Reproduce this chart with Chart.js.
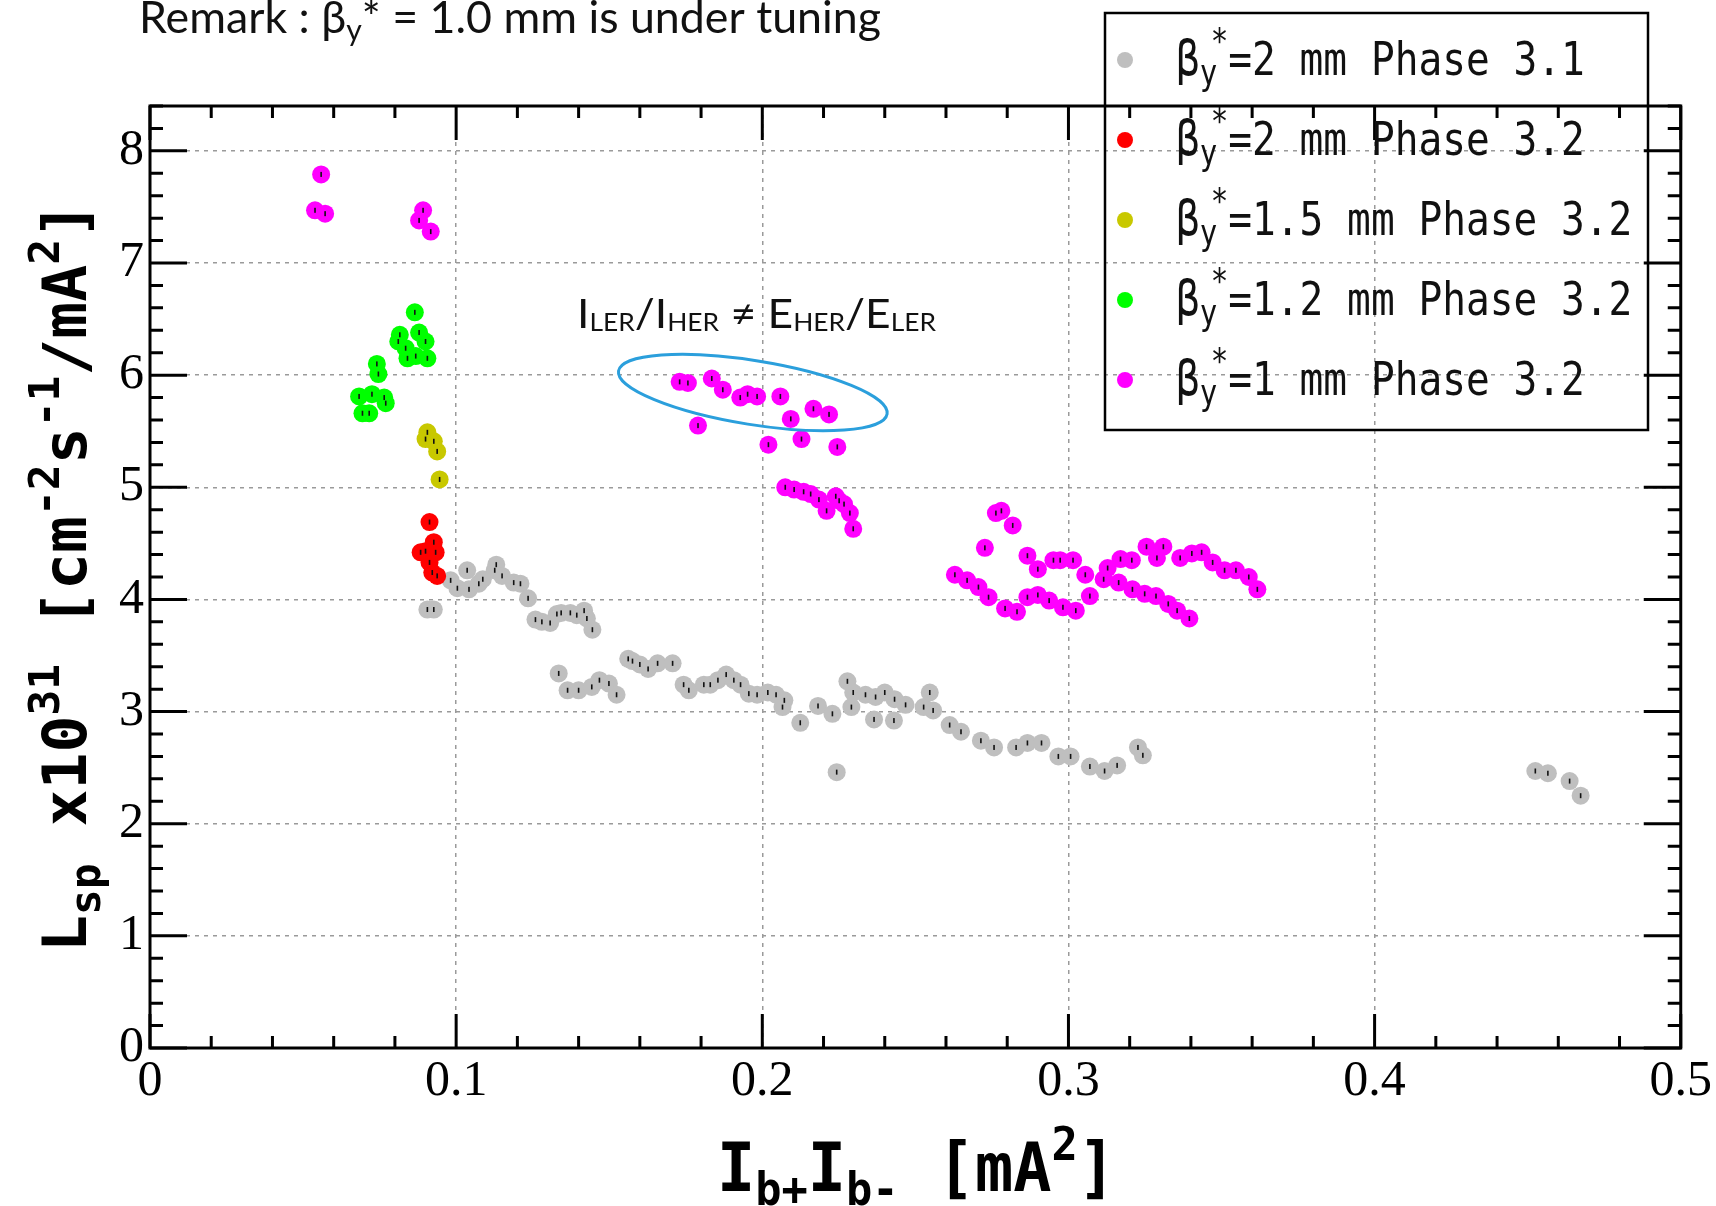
<!DOCTYPE html>
<html>
<head>
<meta charset="utf-8">
<script src="https://cdn.jsdelivr.net/npm/chart.js@4.4.1/dist/chart.umd.min.js"></script>
<style>
  html, body { margin: 0; padding: 0; background: #fff; }
  #wrap { width: 1716px; height: 1206px; position: relative; }
</style>
</head>
<body>
<div id="wrap"><canvas id="lumiChart"></canvas></div>
<script>
// beta_y* = 2 mm, Phase 3.1
const grayX = [0.0906, 0.0927, 0.0982, 0.1004, 0.1036, 0.1042, 0.1074, 0.1087, 0.1126, 0.1131, 0.1150, 0.1188, 0.1210, 0.1235,
  0.1259, 0.1280, 0.1307, 0.1329, 0.1343, 0.1373, 0.1394, 0.1418, 0.1427, 0.1445,
  0.1335, 0.1364, 0.1400, 0.1443, 0.1468, 0.1499, 0.1524,
  0.1562, 0.1576, 0.1600, 0.1627, 0.1658, 0.1707,
  0.1743, 0.1760, 0.1809, 0.1830, 0.1855, 0.1882, 0.1907, 0.1929, 0.1956, 0.1983, 0.2018, 0.2045, 0.2072, 0.2066,
  0.2124, 0.2182, 0.2229, 0.2243, 0.2278, 0.2297, 0.2291, 0.2337, 0.2370, 0.2400, 0.2365, 0.2430, 0.2432, 0.2468, 0.2527, 0.2547, 0.2558,
  0.2612, 0.2649, 0.2714, 0.2757, 0.2829, 0.2866, 0.2912, 0.2967, 0.3007, 0.3070, 0.3118, 0.3159, 0.3227, 0.3243,
  0.4525, 0.4566, 0.4637, 0.4673];
const grayY = [3.91, 3.91, 4.17, 4.10, 4.26, 4.09, 4.14, 4.18, 4.26, 4.31, 4.21, 4.15, 4.14, 4.01,
  3.82, 3.80, 3.79, 3.87, 3.88, 3.88, 3.86, 3.90, 3.83, 3.73,
  3.34, 3.19, 3.19, 3.22, 3.28, 3.25, 3.15,
  3.47, 3.45, 3.42, 3.38, 3.43, 3.43,
  3.24, 3.19, 3.24, 3.24, 3.28, 3.33, 3.28, 3.24, 3.16, 3.15, 3.17, 3.15, 3.10, 3.04,
  2.90, 3.05, 2.98, 2.46, 3.27, 3.17, 3.04, 3.15, 3.13, 3.17, 2.93, 2.92, 3.11, 3.06, 3.04, 3.17, 3.01,
  2.88, 2.82, 2.74, 2.68, 2.68, 2.72, 2.72, 2.60, 2.60, 2.51, 2.47, 2.52, 2.68, 2.61,
  2.47, 2.45, 2.38, 2.25];

// beta_y* = 2 mm, Phase 3.2
const redX = [0.0913, 0.0927, 0.0900, 0.0933, 0.0884, 0.0913, 0.0922, 0.0938];
const redY = [4.69, 4.51, 4.43, 4.42, 4.42, 4.33, 4.24, 4.21];

// beta_y* = 1.5 mm, Phase 3.2
const yellowX = [0.0906, 0.0900, 0.0927, 0.0938, 0.0946];
const yellowY = [5.49, 5.43, 5.41, 5.32, 5.07];

// beta_y* = 1.2 mm, Phase 3.2
const greenX = [0.0865, 0.0816, 0.0811, 0.0835, 0.0879, 0.0900, 0.0841, 0.0868, 0.0906,
  0.0741, 0.0746, 0.0765, 0.0725, 0.0683, 0.0694, 0.0716, 0.0770];
const greenY = [6.56, 6.36, 6.30, 6.24, 6.38, 6.30, 6.15, 6.17, 6.15,
  6.10, 6.01, 5.80, 5.83, 5.81, 5.66, 5.66, 5.75];

// beta_y* = 1 mm, Phase 3.2
const magentaX = [0.0559, 0.0539, 0.0572, 0.0892, 0.0879, 0.0917,
  0.1730, 0.1757, 0.1835, 0.1871, 0.1928, 0.1952, 0.1983, 0.2059, 0.2093, 0.2167, 0.2218, 0.1790, 0.2020, 0.2128, 0.2245,
  0.2075, 0.2104, 0.2135, 0.2158, 0.2185, 0.2210, 0.2240, 0.2251, 0.2267, 0.2286, 0.2297,
  0.2763, 0.2781, 0.2818, 0.2727, 0.2866, 0.2900, 0.2951, 0.2973, 0.3015,
  0.2629, 0.2669, 0.2706, 0.2739, 0.2793, 0.2832, 0.2866, 0.2900, 0.2937, 0.2982, 0.3024,
  0.3055, 0.3070, 0.3115, 0.3128, 0.3170, 0.3207, 0.3255, 0.3310, 0.3289, 0.3365, 0.3403, 0.3435, 0.3471, 0.3510, 0.3547, 0.3589, 0.3617,
  0.3164, 0.3209, 0.3249, 0.3286, 0.3326, 0.3355, 0.3395];
const magentaY = [7.79, 7.47, 7.44, 7.47, 7.38, 7.28,
  5.94, 5.93, 5.97, 5.87, 5.80, 5.83, 5.81, 5.81, 5.61, 5.70, 5.65, 5.55, 5.38, 5.43, 5.36,
  5.00, 4.98, 4.96, 4.94, 4.89, 4.79, 4.92, 4.88, 4.85, 4.77, 4.63,
  4.77, 4.79, 4.66, 4.46, 4.39, 4.27, 4.35, 4.35, 4.35,
  4.22, 4.17, 4.11, 4.02, 3.92, 3.89, 4.02, 4.04, 3.99, 3.93, 3.90,
  4.22, 4.03, 4.18, 4.28, 4.36, 4.35, 4.47, 4.47, 4.37, 4.37, 4.41, 4.42, 4.33, 4.26, 4.26, 4.20, 4.09,
  4.15, 4.09, 4.05, 4.03, 3.96, 3.90, 3.83];

const legendTexts = ['=2 mm Phase 3.1', '=2 mm Phase 3.2', '=1.5 mm Phase 3.2', '=1.2 mm Phase 3.2', '=1 mm Phase 3.2'];
const seriesColors = ['#bfbfbf', '#ff0000', '#c8c800', '#00ff00', '#ff00ff'];

const xTickValues = [0, 0.1, 0.2, 0.3, 0.4, 0.5];
const yTickValues = [0, 1, 2, 3, 4, 5, 6, 7, 8];
const xMinorStep = 0.02;
const yMinorStep = 0.2;

function toPoints(xs, ys) {
    return xs.map((x, i) => ({ x: x, y: ys[i] }));
}

// draws a run of text pieces (sub/superscripts), optionally squeezed to a width
function drawRich(ctx, x, y, parts, opts) {
    opts = opts || {};
    ctx.save();
    let total = 0;
    parts.forEach(p => {
        ctx.font = p.font;
        p.w = ctx.measureText(p.t).width;
        total += p.w + (p.dx || 0);
    });
    const sx = opts.width ? opts.width / total : (opts.sx || 1);
    ctx.translate(x, y);
    if (opts.rotate) ctx.rotate(opts.rotate);
    ctx.scale(sx, opts.vscale || 1);
    ctx.fillStyle = opts.color || '#000';
    ctx.textBaseline = 'alphabetic';
    ctx.textAlign = 'left';
    let cx = 0;
    parts.forEach(p => {
        cx += p.dx || 0;
        ctx.font = p.font;
        ctx.fillText(p.t, cx, p.dy || 0);
        cx += p.w;
    });
    ctx.restore();
}

// little black error bars on each marker
const errorBarPlugin = {
    id: 'errorBars',
    afterDatasetsDraw(chart) {
        const ctx = chart.ctx;
        ctx.save();
        ctx.fillStyle = '#111';
        chart.data.datasets.forEach((ds, i) => {
            chart.getDatasetMeta(i).data.forEach(pt => {
                ctx.fillRect(pt.x - 0.8, pt.y - 2.5, 1.6, 5);
            });
        });
        ctx.restore();
    }
};

// box frame with major/minor ticks on all four sides
const framePlugin = {
    id: 'frame',
    afterDatasetsDraw(chart) {
        const { ctx, chartArea: a, scales: { x, y } } = chart;
        ctx.save();
        ctx.strokeStyle = '#000';
        ctx.lineWidth = 3;
        ctx.beginPath();
        const nx = Math.round((x.max - x.min) / xMinorStep);
        for (let i = 0; i <= nx; i++) {
            const px = x.getPixelForValue(x.min + i * xMinorStep);
            const len = i % 5 === 0 ? 34 : 12;
            ctx.moveTo(px, a.bottom); ctx.lineTo(px, a.bottom - len);
            ctx.moveTo(px, a.top); ctx.lineTo(px, a.top + len);
        }
        const ny = Math.floor((y.max - y.min) / yMinorStep + 1e-6);
        for (let i = 0; i <= ny; i++) {
            const py = y.getPixelForValue(y.min + i * yMinorStep);
            const len = i % 5 === 0 ? 37 : 13;
            ctx.moveTo(a.left, py); ctx.lineTo(a.left + len, py);
            ctx.moveTo(a.right, py); ctx.lineTo(a.right - len, py);
        }
        ctx.stroke();
        ctx.strokeRect(a.left, a.top, a.right - a.left, a.bottom - a.top);
        ctx.restore();
    }
};

// titles, remark, annotation, ellipse and legend box
const textPlugin = {
    id: 'texts',
    afterDraw(chart) {
        const { ctx, scales: { x, y } } = chart;
        const mono = '"DejaVu Sans Mono", monospace';
        const sans = 'Lato, "Open Sans", sans-serif';

        // y title
        drawRich(ctx, 86, 952, [
            { t: 'L', font: 'bold 60px ' + mono },
            { t: 'sp', font: 'bold 42px ' + mono, dy: 14 },
            { t: ' x10', font: 'bold 60px ' + mono },
            { t: '31', font: 'bold 42px ' + mono, dy: -27 },
            { t: ' [cm', font: 'bold 60px ' + mono },
            { t: '-2', font: 'bold 42px ' + mono, dy: -27 },
            { t: 's', font: 'bold 60px ' + mono },
            { t: '-1', font: 'bold 42px ' + mono, dy: -27 },
            { t: '/mA', font: 'bold 60px ' + mono },
            { t: '2', font: 'bold 42px ' + mono, dy: -27 },
            { t: ']', font: 'bold 60px ' + mono }
        ], { rotate: -Math.PI / 2, width: 750 });

        // x title
        drawRich(ctx, 717, 1191, [
            { t: 'I', font: 'bold 64px ' + mono },
            { t: 'b+', font: 'bold 44px ' + mono, dy: 13 },
            { t: 'I', font: 'bold 64px ' + mono },
            { t: 'b-', font: 'bold 44px ' + mono, dy: 13 },
            { t: ' [mA', font: 'bold 64px ' + mono },
            { t: '2', font: 'bold 44px ' + mono, dy: -30 },
            { t: ']', font: 'bold 64px ' + mono }
        ], { width: 399, vscale: 1.05 });

        // remark on top
        drawRich(ctx, 139, 33, [
            { t: 'Remark : β', font: '37px ' + sans },
            { t: 'y', font: '25px ' + sans, dy: 7 },
            { t: '* = 1.0 mm is under tuning', font: '37px ' + sans }
        ], { width: 742, vscale: 1.2, color: '#111' });

        // ratio annotation
        drawRich(ctx, 577, 328, [
            { t: 'I', font: '37px ' + sans },
            { t: 'LER', font: '22px ' + sans, dy: 3 },
            { t: '/I', font: '37px ' + sans },
            { t: 'HER', font: '22px ' + sans, dy: 3 },
            { t: ' ≠ E', font: '37px ' + sans },
            { t: 'HER', font: '22px ' + sans, dy: 3 },
            { t: '/E', font: '37px ' + sans },
            { t: 'LER', font: '22px ' + sans, dy: 3 }
        ], { width: 359, vscale: 1.1, color: '#111' });

        // ellipse round the off-ratio points
        const cx = x.getPixelForValue(0.1969);
        const cy = y.getPixelForValue(5.845);
        ctx.save();
        ctx.strokeStyle = '#2b9fdc';
        ctx.lineWidth = 3;
        ctx.beginPath();
        ctx.ellipse(cx, cy, 136, 32, 9.1 * Math.PI / 180, 0, 2 * Math.PI);
        ctx.stroke();
        ctx.restore();

        // legend box (no fill, grid shows through)
        ctx.save();
        ctx.strokeStyle = '#000';
        ctx.lineWidth = 2.5;
        ctx.strokeRect(1105, 13, 543, 417);
        chart.data.datasets.forEach((ds, i) => {
            const rowY = 60 + i * 80;
            ctx.fillStyle = ds.backgroundColor;
            ctx.beginPath();
            ctx.arc(1125, rowY, 8, 0, 2 * Math.PI);
            ctx.fill();
            drawRich(ctx, 1176, rowY + 15, [
                { t: 'β', font: '42px ' + mono },
                { t: 'y', font: '31px ' + mono, dy: 9 },
                { t: '*', font: '31px ' + mono, dy: -20, dx: -7 },
                { t: legendTexts[i], font: '42px ' + mono }
            ], { sx: 0.94, vscale: 1.12, color: '#111' });
        });
        ctx.restore();
    }
};

const tickFont = { family: '"Liberation Serif", "Times New Roman", serif', size: 50 };

const ctx = document.getElementById('lumiChart').getContext('2d');
const lumiChart = new Chart(ctx, {
    type: 'scatter',
    data: {
        datasets: [
            { label: 'βy*=2 mm Phase 3.1', data: toPoints(grayX, grayY), backgroundColor: seriesColors[0], order: 5 },
            { label: 'βy*=2 mm Phase 3.2', data: toPoints(redX, redY), backgroundColor: seriesColors[1], order: 4 },
            { label: 'βy*=1.5 mm Phase 3.2', data: toPoints(yellowX, yellowY), backgroundColor: seriesColors[2], order: 3 },
            { label: 'βy*=1.2 mm Phase 3.2', data: toPoints(greenX, greenY), backgroundColor: seriesColors[3], order: 2 },
            { label: 'βy*=1 mm Phase 3.2', data: toPoints(magentaX, magentaY), backgroundColor: seriesColors[4], order: 1 }
        ].map(ds => Object.assign(ds, { pointRadius: 9, pointBorderWidth: 0, pointHoverRadius: 9 }))
    },
    options: {
        responsive: true,
        maintainAspectRatio: false,
        animation: false,
        devicePixelRatio: 1,
        layout: { padding: { top: 106, right: 32, left: 0, bottom: 0 } },
        plugins: {
            legend: { display: false },
            tooltip: { enabled: false }
        },
        scales: {
            x: {
                type: 'linear',
                min: 0,
                max: 0.5,
                afterFit: s => { s.height = 158; },
                afterBuildTicks: s => { s.ticks = xTickValues.map(v => ({ value: v })); },
                grid: { color: '#9a9a9a', lineWidth: 1.5, drawTicks: false },
                border: { display: false, dash: [4, 5] },
                ticks: { font: tickFont, color: '#000', padding: 4, maxRotation: 0, autoSkip: false }
            },
            y: {
                type: 'linear',
                min: 0,
                max: 8.4,
                afterFit: s => { s.width = 150; },
                afterBuildTicks: s => { s.ticks = yTickValues.map(v => ({ value: v })); },
                grid: { color: '#9a9a9a', lineWidth: 1.5, drawTicks: false },
                border: { display: false, dash: [4, 5] },
                ticks: { font: tickFont, color: '#000', padding: 6, autoSkip: false }
            }
        }
    },
    plugins: [errorBarPlugin, framePlugin, textPlugin]
});
</script>
</body>
</html>
